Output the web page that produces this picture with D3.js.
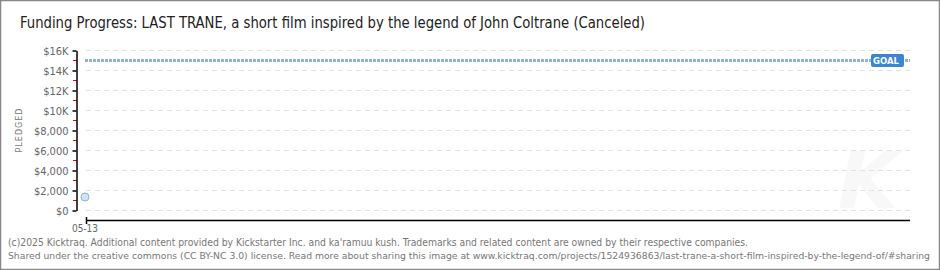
<!DOCTYPE html>
<html>
<head>
<meta charset="utf-8">
<script src="https://cdn.jsdelivr.net/npm/d3@7"></script>
<style>
body { margin: 0; background: #fff; }
svg { display: block; }
</style>
</head>
<body>
<div id="chart"></div>
<script>
var title = "Funding Progress: LAST TRANE, a short film inspired by the legend of John Coltrane (Canceled)";
var dates = ["05-13"];
var pledged = [1300];
var goal = 15000;
var yTicks = [0, 2000, 4000, 6000, 8000, 10000, 12000, 14000, 16000];
var yLabels = ["$0", "$2,000", "$4,000", "$6,000", "$8,000", "$10K", "$12K", "$14K", "$16K"];
var footer = [
    "(c)2025 Kicktraq. Additional content provided by Kickstarter Inc. and ka'ramuu kush. Trademarks and related content are owned by their respective companies.",
    "Shared under the creative commons (CC BY-NC 3.0) license. Read more about sharing this image at www.kicktraq.com/projects/1524936863/last-trane-a-short-film-inspired-by-the-legend-of/#sharing"
];
var footerLen = [740, 922];

var width = 940, height = 270;
var font = "'DejaVu Sans Condensed', 'Liberation Sans Narrow', sans-serif";

var svg = d3.select("#chart").append("svg")
    .attr("width", width)
    .attr("height", height);

svg.append("rect")
    .attr("x", 0.5).attr("y", 0.5)
    .attr("width", width - 1).attr("height", height - 1)
    .attr("fill", "#fff")
    .attr("stroke", "#888")
    .attr("stroke-width", 1.5);

svg.append("text")
    .attr("x", 20).attr("y", 28)
    .attr("font-family", font)
    .attr("font-size", 15)
    .attr("fill", "#222")
    .attr("textLength", 625)
    .attr("lengthAdjust", "spacingAndGlyphs")
    .text(title);

var y = d3.scaleLinear().domain([0, 16000]).range([210, 50]);
var x = d3.scalePoint().domain(dates).range([85, 85]);

// watermark K
svg.append("text")
    .attr("x", 868).attr("y", 208)
    .attr("font-family", "DejaVu Sans")
    .attr("font-style", "italic")
    .attr("font-weight", "bold")
    .attr("font-size", 78)
    .attr("fill", "#f8f8f8")
    .attr("text-anchor", "middle")
    .text("K");

// gridlines
svg.append("g")
    .selectAll("line")
    .data(yTicks)
    .enter()
    .append("line")
    .attr("x1", 86).attr("x2", 910)
    .attr("y1", function(d) { return y(d) + 0.5; })
    .attr("y2", function(d) { return y(d) + 0.5; })
    .attr("stroke", "#e2e2e2")
    .attr("stroke-dasharray", "5,4");

// minor red ticks
var minor = d3.range(1000, 16000, 2000);
svg.append("g")
    .selectAll("line")
    .data(minor)
    .enter()
    .append("line")
    .attr("x1", 73).attr("x2", 77)
    .attr("y1", function(d) { return y(d) + 0.5; })
    .attr("y2", function(d) { return y(d) + 0.5; })
    .attr("stroke", "#e00")
    .attr("stroke-width", 1);

// y axis
var yAxis = d3.axisLeft(y)
    .tickValues(yTicks)
    .tickFormat(function(d, i) { return yLabels[i]; })
    .tickSize(4)
    .tickSizeOuter(0);

var gy = svg.append("g")
    .attr("transform", "translate(76.5,0.5)")
    .call(yAxis);
gy.select(".domain").attr("stroke", "#000").attr("stroke-width", 1.5);
gy.selectAll(".tick line").attr("stroke", "#000").attr("stroke-width", 1.5);
gy.selectAll(".tick text")
    .attr("font-family", font)
    .attr("font-size", 11)
    .attr("fill", "#666")
    .attr("x", -8);

svg.append("text")
    .attr("transform", "translate(22,130) rotate(-90)")
    .attr("text-anchor", "middle")
    .attr("font-family", "DejaVu Sans")
    .attr("font-size", 8)
    .attr("letter-spacing", 1)
    .attr("fill", "#777")
    .text("PLEDGED");

// x axis
svg.append("line")
    .attr("x1", 86).attr("x2", 910)
    .attr("y1", 220.5).attr("y2", 220.5)
    .attr("stroke", "#000")
    .attr("stroke-width", 1.5);
svg.append("line")
    .attr("x1", 86.5).attr("x2", 86.5)
    .attr("y1", 217).attr("y2", 224)
    .attr("stroke", "#000")
    .attr("stroke-width", 1.5);

svg.append("g")
    .selectAll("text")
    .data(dates)
    .enter()
    .append("text")
    .attr("x", function(d) { return x(d); })
    .attr("y", 232)
    .attr("text-anchor", "middle")
    .attr("font-family", font)
    .attr("font-size", 10)
    .attr("fill", "#666")
    .text(function(d) { return d; });

// goal line
svg.append("line")
    .attr("x1", 85).attr("x2", 910)
    .attr("y1", y(goal) + 0.5).attr("y2", y(goal) + 0.5)
    .attr("stroke", "#8fb3da")
    .attr("stroke-width", 3)
    .attr("stroke-dasharray", "3,1");

svg.append("rect")
    .attr("x", 871).attr("y", y(goal) - 6)
    .attr("width", 33).attr("height", 13)
    .attr("rx", 2)
    .attr("fill", "#3b86d3");
svg.append("text")
    .attr("x", 886).attr("y", y(goal) + 4)
    .attr("text-anchor", "middle")
    .attr("font-family", "DejaVu Sans")
    .attr("font-weight", "bold")
    .attr("font-size", 8.5)
    .attr("fill", "#fff")
    .text("GOAL");

// pledged points
svg.append("g")
    .selectAll("circle")
    .data(pledged)
    .enter()
    .append("circle")
    .attr("cx", function(d, i) { return x(dates[i]); })
    .attr("cy", function(d) { return y(d); })
    .attr("r", 4)
    .attr("fill", "#cfe2f7")
    .attr("stroke", "#8fb3da")
    .attr("stroke-width", 1);

// footer
svg.append("g")
    .selectAll("text")
    .data(footer)
    .enter()
    .append("text")
    .attr("x", 8)
    .attr("y", function(d, i) { return 246 + i * 13; })
    .attr("font-family", font)
    .attr("font-size", function(d, i) { return i ? 9.5 : 10.5; })
    .attr("fill", "#777")
    .attr("textLength", function(d, i) { return footerLen[i]; })
    .attr("lengthAdjust", "spacingAndGlyphs")
    .text(function(d) { return d; });
</script>
</body>
</html>
